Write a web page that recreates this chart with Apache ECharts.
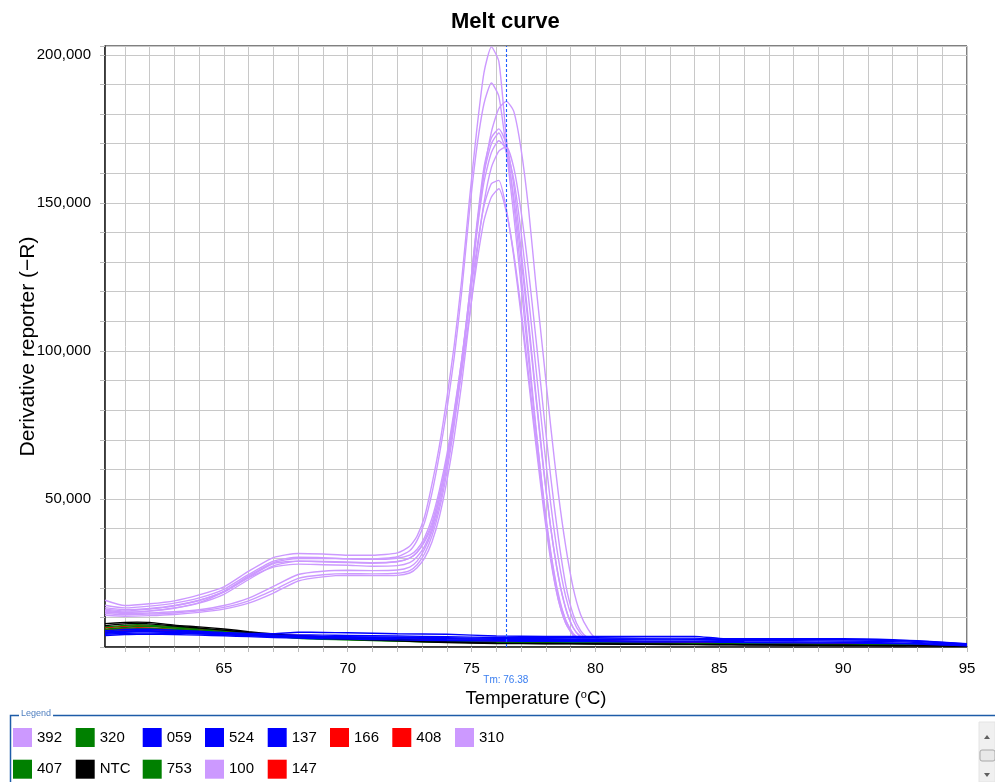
<!DOCTYPE html>
<html>
<head>
<meta charset="utf-8">
<script src="https://cdn.jsdelivr.net/npm/echarts@6/dist/echarts.min.js"></script>
<style>
html,body{margin:0;padding:0;background:#fff;}
#chart{width:995px;height:782px;}
</style>
</head>
<body>
<div id="chart"></div>
<script>
// ---------- DATA ----------
const chartTitle = 'Melt curve';
const tmValue = 76.38;
const xTickLabels = [65, 70, 75, 80, 85, 90, 95];
const yTickLabels = [50000, 100000, 150000, 200000];

const purpleTemps = [60.2, 61, 62, 63, 64, 65, 66, 67, 68, 69, 70, 71, 72, 72.5, 72.8,
  73.1, 73.4, 73.7, 74.0, 74.3, 74.6, 74.9, 75.2, 75.5, 75.8, 76.1, 76.4, 76.7, 77.0, 77.3,
  77.6, 77.9, 78.2, 78.5, 78.8, 79.1, 79.4, 79.7, 80.0, 80.5, 82, 85, 90, 95];

const s392a = [15800, 14000, 14600, 15600, 17600, 20300, 25600, 30200, 31600, 31400, 31000, 31000, 31800, 34000, 37500, 44000, 55000, 68000, 84000, 102000, 124000, 150000, 174000, 194000, 202700, 197800, 172000, 150000, 126000, 100000, 74000, 50000, 30000, 16000, 8000, 4000, 2500, 2000, 1700, 1500, 1400, 1200, 800, 400];
const s392b = [12400, 11800, 12200, 13200, 15000, 18600, 23400, 27000, 28000, 27800, 27600, 27300, 27500, 28500, 30500, 34000, 40000, 50000, 63000, 79000, 97000, 118000, 142000, 162000, 172000, 175000, 170000, 156000, 134000, 110000, 85000, 61000, 40000, 24000, 13000, 6500, 3500, 2200, 1800, 1500, 1400, 1200, 800, 400];
const s392c = [10700, 10400, 10600, 11000, 11700, 12800, 14800, 18200, 22300, 23700, 24200, 24100, 24200, 25000, 26800, 30000, 35500, 44000, 56000, 71000, 89000, 110000, 132000, 150000, 162000, 167500, 169000, 162000, 147000, 127000, 104000, 80000, 57000, 37000, 21000, 11000, 5500, 3000, 2000, 1600, 1400, 1200, 800, 400];
const s310a = [14100, 13200, 13800, 14800, 16600, 19500, 24500, 29000, 30300, 30200, 29800, 29700, 30500, 32500, 36000, 42000, 52000, 65000, 80000, 98000, 120000, 146000, 168000, 183500, 190500, 186000, 168000, 146000, 122000, 97000, 73000, 51000, 32000, 18000, 9000, 4500, 2700, 2000, 1700, 1500, 1400, 1200, 800, 400];
const s310b = [11800, 11300, 11500, 11900, 12600, 14000, 16500, 20500, 24500, 25600, 25900, 25800, 26000, 27000, 29000, 33000, 39000, 48000, 61000, 77000, 96000, 118000, 141000, 160000, 170000, 173600, 167000, 152000, 131000, 108000, 84000, 60000, 40000, 24000, 13000, 6500, 3500, 2200, 1800, 1500, 1400, 1200, 800, 400];
const s310c = [12800, 12200, 12800, 13900, 15700, 18800, 24000, 28500, 29900, 29900, 29800, 29600, 30000, 31000, 33000, 37000, 43500, 53000, 65000, 80000, 97000, 116000, 134000, 149000, 156500, 157600, 148000, 132000, 112000, 90000, 68000, 47000, 29000, 16000, 8000, 4000, 2500, 2000, 1700, 1500, 1400, 1200, 800, 400];
const s100a = [13300, 12600, 13000, 14000, 15800, 18600, 23600, 28200, 29000, 28800, 28500, 28300, 28800, 30000, 32000, 35500, 41000, 50000, 63000, 78000, 95000, 116000, 140000, 160000, 174000, 181900, 184300, 181000, 168000, 148000, 122000, 98000, 74000, 52000, 34000, 20000, 11000, 6000, 3000, 1800, 1500, 1300, 900, 500];
const s100b = [11300, 10900, 11100, 11500, 12200, 13400, 15600, 19200, 23200, 24400, 24800, 24700, 24900, 25800, 27800, 31500, 37500, 46500, 59000, 75000, 94000, 116000, 139000, 157000, 167000, 171000, 168000, 158000, 140000, 118000, 94000, 70000, 48000, 30000, 17000, 9000, 4500, 2600, 1900, 1600, 1400, 1200, 800, 400];
const s100c = [12000, 11600, 12100, 13100, 14800, 17800, 22800, 27400, 29000, 28900, 28700, 28500, 28900, 30000, 32000, 36000, 42000, 51500, 63000, 77000, 93000, 111000, 129000, 144000, 152000, 154800, 147000, 133000, 114000, 92000, 70000, 49000, 31000, 17000, 9000, 4500, 2600, 2000, 1700, 1500, 1400, 1200, 800, 400];

const baseTemps = [60.2, 61, 61.5, 62, 63, 64, 65, 66, 67, 68, 69, 70, 72, 74, 76, 78, 80, 82, 84, 85, 86, 88, 90, 92, 93, 94, 95];

const sNTCa = [7900, 8300, 8400, 8300, 7400, 6800, 6100, 5200, 4400, 3800, 3400, 3100, 2600, 1800, 1300, 1200, 1100, 1000, 900, 850, 800, 700, 600, 500, 450, 400, 300];
const sNTCb = [7200, 7800, 8000, 7800, 7100, 6400, 5700, 4900, 4100, 3500, 3000, 2600, 2100, 1500, 1200, 1100, 1000, 900, 800, 750, 700, 600, 500, 400, 350, 300, 200];
const s320 = [6800, 7300, 7500, 7400, 6800, 6200, 5600, 4800, 4000, 3200, 2900, 2700, 2300, 1900, 1600, 1500, 1400, 1300, 1200, 1150, 1100, 1000, 900, 800, 700, 600, 500];
const s407 = [6000, 6600, 6900, 6900, 6400, 5800, 5200, 4500, 3800, 3000, 2700, 2500, 2100, 1700, 1500, 1400, 1300, 1200, 1100, 1050, 1000, 900, 800, 700, 600, 500, 400];
const s753 = [5400, 6000, 6200, 6200, 5900, 5400, 4900, 4300, 3600, 2900, 2600, 2400, 2000, 1600, 1400, 1300, 1200, 1100, 1000, 950, 900, 800, 700, 600, 500, 400, 300];
const s166 = [6500, 7000, 7200, 7100, 6600, 6000, 5400, 4700, 4300, 3900, 3500, 3200, 2700, 2300, 2100, 2000, 1900, 1800, 1700, 1650, 1500, 1300, 1100, 900, 800, 700, 600];
const s408 = [5800, 6300, 6500, 6400, 6000, 5500, 5000, 4400, 4000, 3600, 3200, 2900, 2500, 2100, 1900, 1800, 2200, 1700, 1600, 1800, 1400, 1200, 1000, 800, 700, 600, 500];
const s147 = [5100, 5600, 5800, 5800, 5500, 5100, 4700, 4200, 3800, 3400, 3000, 2700, 2300, 1900, 1700, 1600, 1500, 1400, 1500, 1400, 1200, 1000, 800, 600, 500, 400, 300];
const s059a = [5500, 5900, 6000, 6000, 5700, 5300, 4900, 4600, 4500, 5000, 4900, 4800, 4500, 4300, 3700, 3600, 3600, 3600, 3600, 2900, 2800, 2800, 2800, 2500, 2100, 1600, 1100];
const s059b = [4600, 5000, 5100, 5100, 4900, 4600, 4300, 4000, 3700, 3500, 3300, 3200, 3000, 2800, 2600, 2500, 2500, 2400, 2400, 2300, 2200, 2100, 2000, 1800, 1500, 1100, 700];
const s524a = [5000, 5400, 5500, 5500, 5300, 5000, 4600, 4200, 3900, 3700, 3600, 3500, 3300, 3100, 2900, 2800, 2700, 2700, 2600, 2600, 2500, 2500, 2400, 2200, 1900, 1400, 900];
const s524b = [4300, 4600, 4700, 4700, 4600, 4400, 4100, 3800, 3500, 3300, 3100, 3000, 2800, 2500, 2300, 2200, 2100, 2000, 2000, 1900, 1800, 1700, 1600, 1400, 1200, 900, 500];
const s137a = [4800, 5200, 5300, 5300, 5100, 4800, 4500, 4200, 4000, 4100, 4000, 3900, 3700, 3500, 3200, 3100, 3100, 3000, 3000, 2700, 2600, 2600, 2500, 2300, 2000, 1500, 1000];
const s137b = [3900, 4200, 4300, 4300, 4200, 4000, 3800, 3500, 3200, 3000, 2800, 2700, 2400, 2200, 2000, 1900, 1800, 1700, 1700, 1600, 1500, 1400, 1300, 1200, 1000, 700, 400];

const legendColumns = [['392', '407'], ['320', 'NTC'], ['059', '753'], ['524', '100'], ['137', '147'], ['166'], ['408'], ['310']];

// ---------- STYLE ----------
const FONT = '"Liberation Sans", Arial, sans-serif';
const C_PURPLE = '#CC99FF', C_GREEN = '#008000', C_BLUE = '#0000FF', C_RED = '#FF0000', C_BLACK = '#000000';

const curves = [
  ['392', C_PURPLE, purpleTemps, s392a], ['392', C_PURPLE, purpleTemps, s392b], ['392', C_PURPLE, purpleTemps, s392c],
  ['310', C_PURPLE, purpleTemps, s310a], ['310', C_PURPLE, purpleTemps, s310b], ['310', C_PURPLE, purpleTemps, s310c],
  ['100', C_PURPLE, purpleTemps, s100a], ['100', C_PURPLE, purpleTemps, s100b], ['100', C_PURPLE, purpleTemps, s100c],
  ['166', C_RED, baseTemps, s166], ['408', C_RED, baseTemps, s408], ['147', C_RED, baseTemps, s147],
  ['320', C_GREEN, baseTemps, s320], ['407', C_GREEN, baseTemps, s407], ['753', C_GREEN, baseTemps, s753],
  ['NTC', C_BLACK, baseTemps, sNTCa], ['NTC', C_BLACK, baseTemps, sNTCb],
  ['059', C_BLUE, baseTemps, s059a], ['059', C_BLUE, baseTemps, s059b],
  ['524', C_BLUE, baseTemps, s524a], ['524', C_BLUE, baseTemps, s524b],
  ['137', C_BLUE, baseTemps, s137a], ['137', C_BLUE, baseTemps, s137b]
];

const series = curves.map(([name, color, temps, vals]) => ({
  name: name,
  type: 'line',
  data: temps.map((t, i) => [t, vals[i]]),
  showSymbol: false,
  symbol: 'none',
  smooth: 0.2,
  color: color,
  itemStyle: { color: color },
  lineStyle: { color: color, width: 1.4 },
  emphasis: { disabled: true },
  silent: true
}));

series[series.length - 1].markLine = {
  silent: true,
  symbol: 'none',
  animation: false,
  z: 10,
  lineStyle: { color: '#1f5fff', type: [3, 2], width: 1.1 },
  label: {
    show: true, position: 'start', distance: 28,
    formatter: 'Tm: ' + tmValue.toFixed(2),
    color: '#3a7ef0', fontSize: 10, fontFamily: FONT
  },
  data: [{ xAxis: tmValue, lineStyle: { color: '#1f5fff' } }]
};

function commas(v) {
  return String(v).replace(/\B(?=(\d{3})+(?!\d))/g, ',');
}

const legendX = [13, 75.7, 142.7, 205, 267.7, 330, 392.3, 455];
const legends = legendColumns.map((names, i) => ({
  orient: 'vertical',
  left: legendX[i],
  top: 728,
  padding: 0,
  itemGap: 12.7,
  itemWidth: 19,
  itemHeight: 19,
  icon: 'rect',
  selectedMode: false,
  textStyle: { fontSize: 15, color: '#000', fontFamily: FONT },
  data: names
}));

const chart = echarts.init(document.getElementById('chart'), null, { renderer: 'canvas' });
chart.setOption({
  animation: false,
  backgroundColor: '#fff',
  title: {
    text: chartTitle,
    left: 451,
    top: 11,
    padding: 0,
    textStyle: { fontSize: 22, fontWeight: 'bold', color: '#000', fontFamily: FONT }
  },
  legend: legends,
  grid: {
    left: 105, right: 28, top: 46, bottom: 135,
    outerBoundsMode: 'none',
    show: true, borderColor: '#000', borderWidth: 1, backgroundColor: '#fff'
  },
  xAxis: {
    type: 'value',
    min: 60.2,
    max: 95,
    splitNumber: 35,
    name: 'Temperature ({sup|o}C)',
    nameLocation: 'middle',
    nameGap: 42,
    nameTextStyle: {
      fontSize: 18.5, lineHeight: 20, color: '#000', fontFamily: FONT,
      rich: { sup: { fontSize: 11, lineHeight: 11, verticalAlign: 'top', color: '#000', fontFamily: FONT } }
    },
    axisLine: { show: true, lineStyle: { color: '#222', width: 1.5 } },
    axisTick: { show: true, length: 5, lineStyle: { color: '#bbb', width: 1 } },
    axisLabel: {
      fontSize: 15, color: '#000', fontFamily: FONT, margin: 14,
      showMinLabel: false,
      formatter: v => xTickLabels.indexOf(Math.round(v * 100) / 100) >= 0 ? String(Math.round(v)) : ''
    },
    splitLine: { show: true, lineStyle: { color: '#c8c8c8', width: 1 } }
  },
  yAxis: {
    type: 'value',
    min: 0,
    max: 203000,
    splitNumber: 20,
    name: 'Derivative reporter (\u2212R)',
    nameLocation: 'middle',
    nameGap: 66,
    nameMoveOverlap: false,
    nameTextStyle: { fontSize: 21, color: '#000', fontFamily: FONT },
    axisLine: { show: true, lineStyle: { color: '#222', width: 1.5 } },
    axisTick: { show: true, length: 5, lineStyle: { color: '#bbb', width: 1 } },
    axisLabel: {
      fontSize: 15, color: '#000', fontFamily: FONT, margin: 14,
      formatter: v => yTickLabels.indexOf(v) >= 0 ? commas(v) : ''
    },
    splitLine: { show: true, lineStyle: { color: '#c8c8c8', width: 1 } }
  },
  graphic: [
    { type: 'rect', silent: true, z: 0,
      shape: { x: 10.5, y: 715.5, width: 1000, height: 100 },
      style: { fill: 'none', stroke: '#1d5ca8', lineWidth: 1.5 } },
    { type: 'text', silent: true, x: 19, y: 709,
      style: { text: 'Legend', fill: '#4f7fbf', font: '9px ' + FONT, backgroundColor: '#fff', padding: [0, 2, 0, 2] } },
    { type: 'rect', silent: true, shape: { x: 979, y: 722, width: 16, height: 60 },
      style: { fill: '#f0f0f0', stroke: '#e4e4e4' } },
    { type: 'polygon', silent: true, shape: { points: [[984, 739], [990, 739], [987, 735]] },
      style: { fill: '#606060' } },
    { type: 'rect', silent: true, shape: { x: 980, y: 750, width: 15, height: 11, r: 2 },
      style: { fill: '#e8e8e8', stroke: '#a8a8a8' } },
    { type: 'polygon', silent: true, shape: { points: [[984, 773], [990, 773], [987, 777]] },
      style: { fill: '#606060' } }
  ],
  series: series
});
</script>
</body>
</html>
